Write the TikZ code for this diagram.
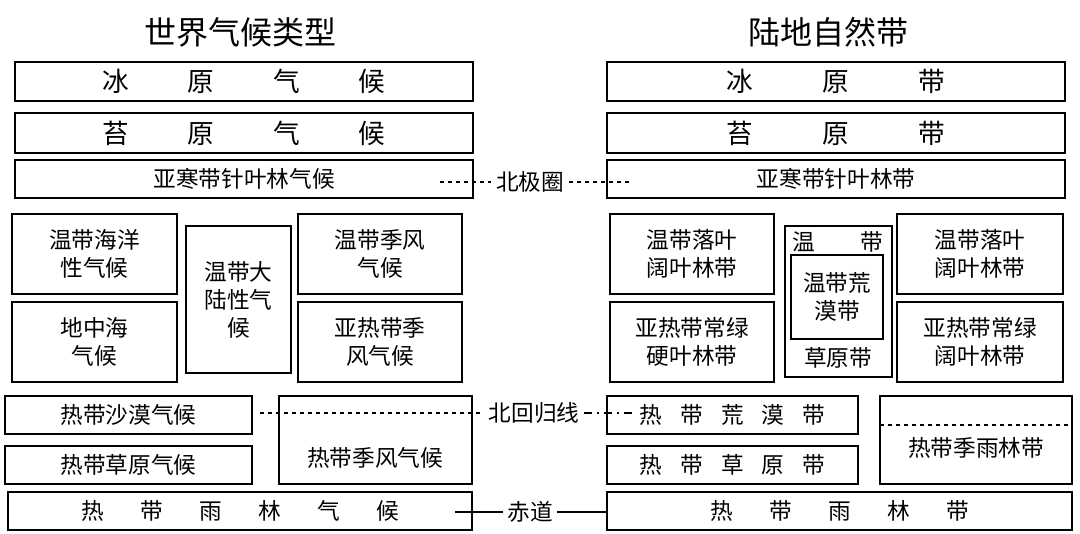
\documentclass[tikz,border=0pt]{standalone}
\usepackage{fontspec}
\setmainfont{Noto Sans CJK SC}
\begin{document}
\begin{tikzpicture}[x=0.75pt,y=-0.75pt,
  bx/.style={draw,line width=1.5pt,inner sep=0pt},
  t/.style={font=\fontsize{17}{21}\selectfont,align=center},
  tb/.style={font=\fontsize{20}{24}\selectfont},
  ti/.style={font=\fontsize{24}{28}\selectfont}]
\useasboundingbox (0,0) rectangle (1080,534);
\newcommand{\B}[6]{\draw[line width=1.5pt] (#1,#2) rectangle (#3,#4); \node[#6] (#5) at ({(#1+#3)/2},{(#2+#4)/2})}
\node[ti] (T1) at (240,32) {世界气候类型};
\node[ti] (T2) at (828,32) {陆地自然带};
% left
\B{15}{62}{473}{101}{a1}{tb}{冰\hspace{2.2em}原\hspace{2.2em}气\hspace{2.2em}候};
\B{15}{113}{473}{153}{a2}{tb}{苔\hspace{2.2em}原\hspace{2.2em}气\hspace{2.2em}候};
\B{15}{160}{473}{198}{a3}{t}{亚寒带针叶林气候};
\B{12}{214}{177}{294}{a4}{t}{温带海洋\\性气候\hspace{1em}};
\B{186}{226}{291}{373}{a5}{t}{温带大\\陆性气\\候\hspace{2em}};
\B{298}{214}{462}{294}{a6}{t}{温带季风\\气候\hspace{2em}};
\B{12}{302}{177}{382}{a7}{t}{地中海\\气候\hspace{1em}};
\B{298}{302}{462}{382}{a8}{t}{亚热带季\\风气候};
\B{5}{396}{252}{434}{a9}{t}{热带沙漠气候};
\B{5}{446}{252}{484}{a10}{t}{热带草原气候};
\B{279}{396}{472}{484}{a11}{t}{};
\node[t] at (375,458) {热带季风气候};
\B{8}{492}{472}{530}{a12}{t}{热\hspace{1.6em}带\hspace{1.6em}雨\hspace{1.6em}林\hspace{1.6em}气\hspace{1.6em}候};
% right
\B{607}{62}{1065}{101}{b1}{tb}{冰\hspace{2.6em}原\hspace{2.6em}带};
\B{607}{113}{1065}{153}{b2}{tb}{苔\hspace{2.6em}原\hspace{2.6em}带};
\B{607}{160}{1065}{198}{b3}{t}{亚寒带针叶林带};
\B{610}{214}{774}{294}{b4}{t}{温带落叶\\阔叶林带};
\B{785}{226}{892}{377}{b5}{t}{};
\node[t] at (838,242) {温\hspace{2em}带};
\B{791}{255}{883}{339}{b6}{t}{温带荒\\漠带\hspace{1em}};
\node[t] at (838,358) {草原带};
\B{897}{214}{1063}{294}{b7}{t}{温带落叶\\阔叶林带};
\B{610}{302}{774}{382}{b8}{t}{亚热带常绿\\硬叶林带\hspace{1em}};
\B{897}{302}{1063}{382}{b9}{t}{亚热带常绿\\阔叶林带\hspace{1em}};
\B{607}{396}{858}{434}{b10}{t}{热\hspace{0.8em}带\hspace{0.8em}荒\hspace{0.8em}漠\hspace{0.8em}带};
\B{607}{446}{858}{484}{b11}{t}{热\hspace{0.8em}带\hspace{0.8em}草\hspace{0.8em}原\hspace{0.8em}带};
\B{880}{396}{1072}{484}{b12}{t}{};
\node[t] at (976,448) {热带季雨林带};
\draw[line width=1.5pt,dashed] (880,425) -- (1072,425);
\B{607}{492}{1072}{530}{b13}{t}{热\hspace{1.6em}带\hspace{1.6em}雨\hspace{1.6em}林\hspace{1.6em}带};
% lines
\node[t] (L1) at (530,182) {北极圈};
\draw[line width=1.5pt,dashed] (440,182) -- (L1.west);
\draw[line width=1.5pt,dashed] (L1.east) -- (632,182);
\node[t] (L2) at (534,413) {北回归线};
\draw[line width=1.5pt,dashed] (260,413) -- (L2.west);
\draw[line width=1.5pt,dash pattern=on 6pt off 4pt on 1pt off 4pt] (L2.east) -- (634,413);
\node[t] (L3) at (530,512) {赤道};
\draw[line width=1.5pt] (455,512) -- (L3.west);
\draw[line width=1.5pt] (L3.east) -- (607,512);
\end{tikzpicture}
\end{document}
